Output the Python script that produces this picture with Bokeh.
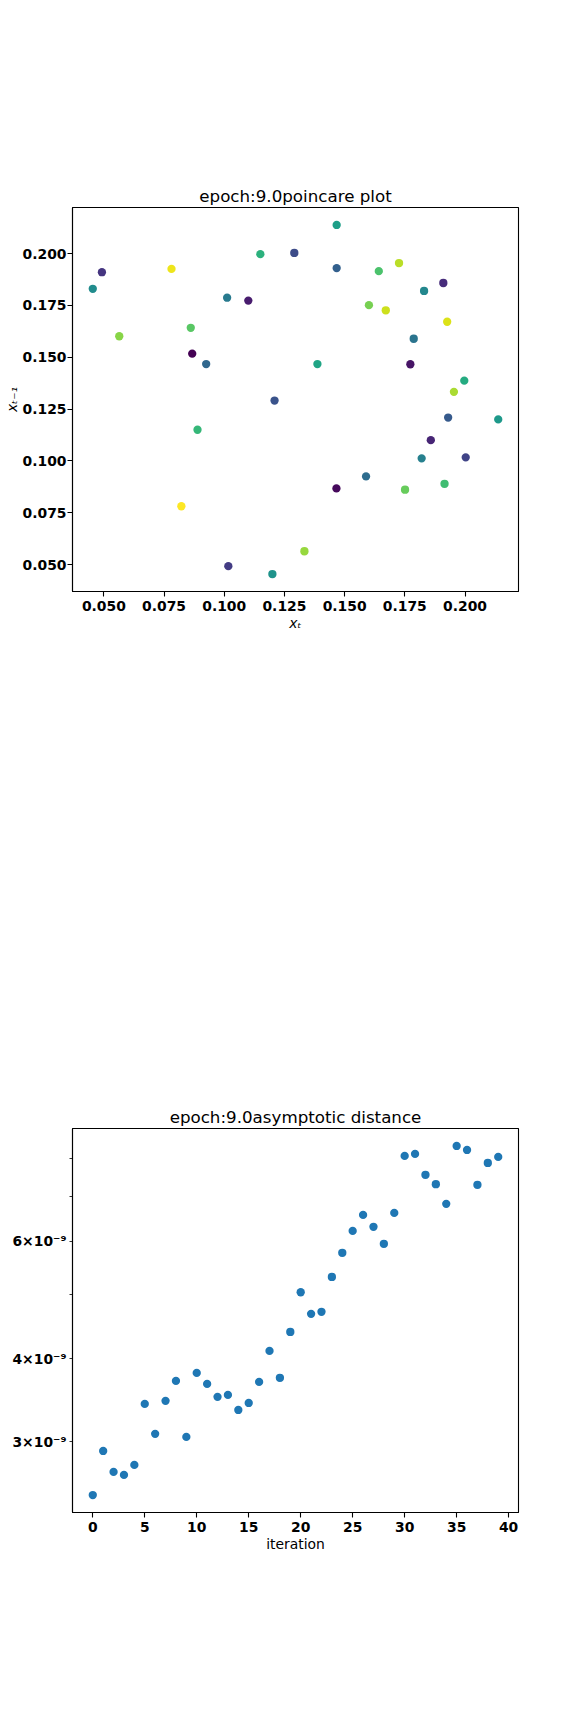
import numpy as np
from bokeh.plotting import figure
from bokeh.layouts import column
from bokeh.models import Range1d, FixedTicker, PrintfTickFormatter, CustomJSTickFormatter, ColumnDataSource
from bokeh.palettes import Viridis256
from bokeh.embed import file_html
from bokeh.resources import INLINE

# ---------------- data ----------------
# Poincare plot: x_t (horizontal) vs x_{t-1} (vertical), colour = point order
x_t = [0.0867, 0.1466, 0.1773, 0.1100, 0.1858, 0.1910, 0.0492, 0.1017, 0.2003, 0.1291,
       0.1209, 0.1930, 0.1467, 0.0925, 0.1589, 0.1787, 0.1012, 0.1820, 0.1830, 0.0454,
       0.1200, 0.2138, 0.1467, 0.1387, 0.1997, 0.1150, 0.0889, 0.1915, 0.1642, 0.0861,
       0.1751, 0.1601, 0.0564, 0.1333, 0.1954, 0.1726, 0.1671, 0.1926, 0.0781, 0.0822]
x_prev = [0.1517, 0.0867, 0.1466, 0.1773, 0.1100, 0.1858, 0.1910, 0.0492, 0.1017, 0.2003,
          0.1291, 0.1209, 0.1930, 0.1467, 0.0925, 0.1589, 0.1787, 0.1012, 0.1820, 0.1830,
          0.0454, 0.1200, 0.2138, 0.1467, 0.1387, 0.1997, 0.1150, 0.0889, 0.1915, 0.1642,
          0.0861, 0.1751, 0.1601, 0.0564, 0.1333, 0.1954, 0.1726, 0.1671, 0.1926, 0.0781]
order = list(range(40))
poincare_ticks = [0.050, 0.075, 0.100, 0.125, 0.150, 0.175, 0.200]

# Asymptotic distance per iteration (log scale)
iteration = list(range(40))
distance = [2.494e-9, 2.905e-9, 2.702e-9, 2.674e-9, 2.768e-9, 3.419e-9, 3.082e-9, 3.455e-9,
            3.702e-9, 3.050e-9, 3.806e-9, 3.664e-9, 3.503e-9, 3.527e-9, 3.348e-9, 3.430e-9,
            3.689e-9, 4.107e-9, 3.741e-9, 4.386e-9, 5.031e-9, 4.669e-9, 4.702e-9, 5.305e-9,
            5.766e-9, 6.221e-9, 6.575e-9, 6.310e-9, 5.949e-9, 6.621e-9, 8.065e-9, 8.120e-9,
            7.555e-9, 7.313e-9, 6.831e-9, 8.347e-9, 8.232e-9, 7.296e-9, 7.871e-9, 8.037e-9]
iter_ticks = [0, 5, 10, 15, 20, 25, 30, 35, 40]
dist_major_ticks = [3e-9, 4e-9, 6e-9]
dist_minor_ticks = [5e-9, 7e-9, 8e-9]

FONT = "DejaVu Sans"


def pad_range(vals, frac=0.05):
    lo, hi = min(vals), max(vals)
    d = (hi - lo) * frac
    return lo - d, hi + d


def pad_log_range(vals, frac=0.05):
    lo, hi = np.log10(min(vals)), np.log10(max(vals))
    d = (hi - lo) * frac
    return 10 ** (lo - d), 10 ** (hi + d)


def style(p):
    p.outline_line_color = "black"
    p.outline_line_width = 1.1
    p.outline_line_alpha = 1.0
    p.xgrid.visible = False
    p.ygrid.visible = False
    p.background_fill_color = "white"
    p.border_fill_color = "white"
    for ax in p.axis:
        ax.axis_line_color = "black"
        ax.axis_line_width = 1.1
        ax.major_tick_line_color = "black"
        ax.major_tick_line_width = 1.1
        ax.major_tick_in = 0
        ax.major_tick_out = 5
        ax.minor_tick_in = 0
        ax.minor_tick_out = 0
        ax.major_label_text_font = FONT
        ax.major_label_text_font_style = "bold"
        ax.major_label_text_font_size = "13.9px"
        ax.major_label_text_color = "black"
        ax.major_label_standoff = 4
        ax.axis_label_text_font = FONT
        ax.axis_label_text_font_size = "13.9px"
        ax.axis_label_text_font_style = "normal"
        ax.axis_label_text_color = "black"
        ax.axis_label_standoff = 1
    for ax in p.yaxis:
        ax.major_label_standoff = 1
        ax.axis_label_standoff = 0
    p.title.text_font = FONT
    p.title.text_font_size = "16.7px"
    p.title.text_font_style = "normal"
    p.title.text_color = "black"
    p.title.align = "center"
    p.title.standoff = 3


# ---------------- top: poincare plot ----------------
colors = [Viridis256[min(int(i / (len(order) - 1) * 256), 255)] for i in order]
src1 = ColumnDataSource(dict(x=x_t, y=x_prev, c=colors))

xr = pad_range(x_t)
yr = pad_range(x_prev)
p1 = figure(width=576, height=860, output_backend="svg", toolbar_location=None,
            title="epoch:9.0poincare plot",
            x_range=Range1d(*xr), y_range=Range1d(*yr),
            min_border_left=72, min_border_right=58, min_border_top=207, min_border_bottom=269)
p1.scatter("x", "y", source=src1, size=8.3, fill_color="c", line_color=None)
style(p1)
p1.xaxis.ticker = FixedTicker(ticks=poincare_ticks)
p1.yaxis.ticker = FixedTicker(ticks=poincare_ticks)
p1.xaxis.formatter = PrintfTickFormatter(format="%.3f")
p1.yaxis.formatter = PrintfTickFormatter(format="%.3f")
p1.xaxis.axis_label = "xₜ"
p1.yaxis.axis_label = "xₜ₋₁"
p1.xaxis.axis_label_text_font_style = "italic"
p1.yaxis.axis_label_text_font_style = "italic"

# ---------------- bottom: asymptotic distance ----------------
src2 = ColumnDataSource(dict(x=iteration, y=distance))
xr2 = pad_range(iteration)
yr2 = pad_log_range(distance)
p2 = figure(width=576, height=868, output_backend="svg", toolbar_location=None,
            title="epoch:9.0asymptotic distance", y_axis_type="log",
            x_range=Range1d(*xr2), y_range=Range1d(*yr2),
            min_border_left=72, min_border_right=58, min_border_top=268, min_border_bottom=216)
p2.scatter("x", "y", source=src2, size=8.3, fill_color="#1f77b4", line_color=None)
style(p2)
p2.xaxis.ticker = FixedTicker(ticks=iter_ticks)
p2.xaxis.axis_label = "iteration"
p2.yaxis.ticker = FixedTicker(ticks=dist_major_ticks, minor_ticks=dist_minor_ticks)
p2.yaxis.major_tick_out = 3
p2.yaxis.major_tick_line_width = 0.8
p2.yaxis.minor_tick_out = 3
p2.yaxis.minor_tick_line_width = 0.8
p2.yaxis.minor_tick_line_color = "black"
p2.yaxis.major_label_standoff = 3
p2.yaxis.formatter = CustomJSTickFormatter(
    code="const v = Math.round(tick * 1e9); return v + '\u00d710\u207b\u2079';")

layout = column(p1, p2, spacing=0)
open("out.html", "w").write(file_html(layout, INLINE))
